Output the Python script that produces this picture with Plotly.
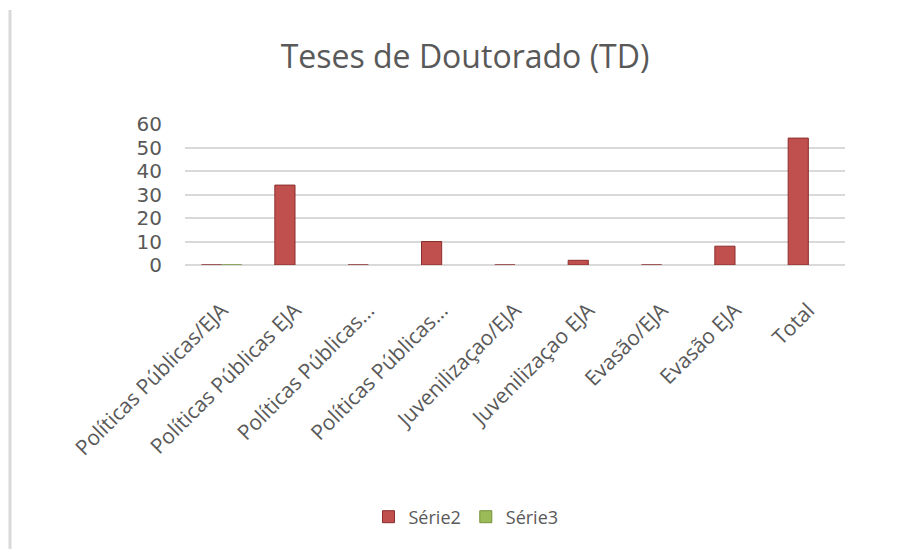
import plotly.graph_objects as go

categories = ["Políticas Públicas/EJA", "Políticas Públicas EJA", "Políticas Públicas...",
              "Políticas Públicas...", "Juvenilizaçao/EJA", "Juvenilizaçao EJA",
              "Evasão/EJA", "Evasão EJA", "Total"]
serie2 = [0, 34, 0, 10, 0, 2, 0, 8, 54]
serie3 = [0, None, None, None, None, None, None, None, None]
y_ticks = [0, 10, 20, 30, 40, 50, 60]

xpos = list(range(len(categories)))

W, H = 902, 541
L, R, T, B = 177, 65, 116, 284
PW, PH = W - L - R, H - T - B

fig = go.Figure()
fig.add_trace(go.Bar(x=xpos, y=serie2, name="Série2",
                     marker=dict(color="#C0504D", line=dict(color="#8B2E2C", width=1))))
fig.add_trace(go.Bar(x=xpos, y=serie3, name="Série3",
                     marker=dict(color="#9BBB59", line=dict(color="#76923C", width=1))))

fig.update_layout(
    width=W, height=H,
    paper_bgcolor="white", plot_bgcolor="white",
    margin=dict(l=L, r=R, t=T, b=B, autoexpand=False),
    barmode="group", bargap=0.45, bargroupgap=0,
    title=dict(text="Teses de Doutorado (TD)", xref="container", x=457 / W, xanchor="center",
               yref="container", y=1 - 49 / H, yanchor="middle",
               font=dict(family="Open Sans", size=32, color="#595959")),
    font=dict(family="Open Sans", color="#595959"),
    showlegend=True,
    legend=dict(orientation="h", xref="container", x=458 / W, xanchor="center",
                yref="container", y=1 - 509 / H, yanchor="middle",
                font=dict(size=18, color="#595959"), itemwidth=30),
    shapes=[dict(type="line", xref="paper", yref="paper",
                 x0=(2 - L) / PW, x1=(2 - L) / PW, y0=-(B + 10) / PH, y1=(PH + T - 2) / PH,
                 line=dict(color="#D9D9D9", width=3))],
)
fig.update_xaxes(tickmode="array", tickvals=xpos, ticktext=categories, tickangle=-45,
                 tickfont=dict(size=21, color="#595959"), showgrid=False, showline=False,
                 ticks="", range=[-0.5, len(categories) - 0.5], automargin=False,
                 ticklabelstandoff=28)
fig.update_yaxes(range=[0, 60], tickvals=y_ticks, showgrid=True, gridcolor="#D9D9D9", gridwidth=1.5,
                 zeroline=True, zerolinecolor="#D9D9D9", zerolinewidth=1.5, automargin=False,
                 tickfont=dict(family="DejaVu Sans", size=20, color="#595959"), ticklabelstandoff=22)

fig.write_html("out.html")
